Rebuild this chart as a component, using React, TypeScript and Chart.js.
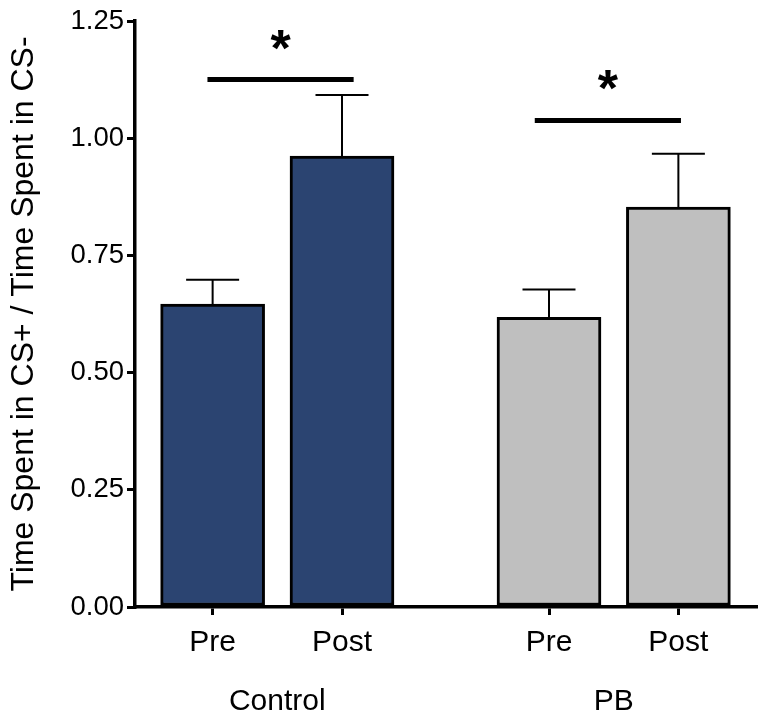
import React, { useEffect, useRef } from "react";
import { Chart, registerables } from "chart.js";

Chart.register(...registerables);

// ---- data ----
const barLabels = ["Pre", "Post", "Pre", "Post"];
const barPositions = [0, 1, 2.6, 3.6];
const barValues = [0.646, 0.962, 0.618, 0.853];
const barErrors = [0.052, 0.13, 0.059, 0.114];
const barColors = ["#2B4471", "#2B4471", "#BFBFBF", "#BFBFBF"];

const groupLabels = ["Control", "PB"];
const groupCenters = [0.5, 3.1];

const sigFrom = [-0.04, 2.49];
const sigTo = [1.09, 3.62];
const sigLevel = [1.125, 1.038];
const sigMark = ["*", "*"];

const yTicks = [0, 0.25, 0.5, 0.75, 1.0, 1.25];
const yTitle = "Time Spent in CS+ / Time Spent in CS-";

const FONT = "'Liberation Sans', Arial, Helvetica, sans-serif";

const overlayPlugin = {
  id: "overlay",
  afterDatasetsDraw(chart: any) {
    const ctx = chart.ctx;
    const xs = chart.scales.x;
    const ys = chart.scales.y;
    const meta = chart.getDatasetMeta(0);
    ctx.save();
    // error bars
    ctx.strokeStyle = "#000";
    ctx.lineWidth = 2;
    meta.data.forEach((el: any, i: number) => {
      const x = el.x;
      const y0 = ys.getPixelForValue(barValues[i]);
      const y1 = ys.getPixelForValue(barValues[i] + barErrors[i]);
      ctx.beginPath();
      ctx.moveTo(x, y0);
      ctx.lineTo(x, y1);
      ctx.moveTo(x - 26.5, y1);
      ctx.lineTo(x + 26.5, y1);
      ctx.stroke();
    });
    // significance bars
    ctx.lineWidth = 5;
    ctx.fillStyle = "#000";
    ctx.font = `bold 52px ${FONT}`;
    ctx.textAlign = "center";
    ctx.textBaseline = "alphabetic";
    for (let i = 0; i < sigLevel.length; i++) {
      const x0 = xs.getPixelForValue(sigFrom[i]);
      const x1 = xs.getPixelForValue(sigTo[i]);
      const y = ys.getPixelForValue(sigLevel[i]);
      ctx.beginPath();
      ctx.moveTo(x0, y);
      ctx.lineTo(x1, y);
      ctx.stroke();
      const m = ctx.measureText(sigMark[i]);
      const asc = m.actualBoundingBoxAscent;
      const desc = m.actualBoundingBoxDescent;
      const cy = y - 40;
      ctx.fillText(sigMark[i], (x0 + x1) / 2, cy + (asc - desc) / 2);
    }
    // group labels
    ctx.font = `30px ${FONT}`;
    ctx.textBaseline = "alphabetic";
    for (let i = 0; i < groupLabels.length; i++) {
      ctx.fillText(groupLabels[i], xs.getPixelForValue(groupCenters[i]), 710);
    }
    // y title
    ctx.save();
    ctx.translate(33, (chart.chartArea.top + chart.chartArea.bottom) / 2);
    ctx.rotate(-Math.PI / 2);
    ctx.font = `32px ${FONT}`;
    ctx.textAlign = "center";
    ctx.fillText(yTitle, 0, 0);
    ctx.restore();
    ctx.restore();
  },
};

export default function App() {
  const ref = useRef<HTMLCanvasElement>(null);
  useEffect(() => {
    document.body.style.margin = "0";
    const chart = new Chart(ref.current as HTMLCanvasElement, {
      type: "bar",
      data: {
        datasets: [
          {
            data: barPositions.map((x, i) => ({ x, y: barValues[i] })),
            backgroundColor: barColors,
            borderColor: "#000",
            borderWidth: 3,
            borderSkipped: false,
            barThickness: 104,
          },
        ],
      },
      options: {
        responsive: false,
        animation: false,
        layout: { padding: { top: 21, right: 10, left: 0, bottom: 0 } },
        plugins: { legend: { display: false }, tooltip: { enabled: false } },
        scales: {
          x: {
            type: "linear",
            min: -0.6,
            max: 4.2,
            offset: false,
            afterBuildTicks: (scale: any) => {
              scale.ticks = barPositions.map((v) => ({ value: v }));
            },
            afterFit: (scale: any) => {
              scale.height = 113;
            },
            ticks: {
              callback: (_v: any, i: number) => barLabels[i],
              font: { size: 30, family: FONT },
              color: "#000",
              padding: 10,
              maxRotation: 0,
              autoSkip: false,
            },
            grid: {
              display: true,
              offset: false,
              drawOnChartArea: false,
              drawTicks: true,
              tickLength: 8,
              color: "#000",
              lineWidth: 3,
            },
            border: { display: true, color: "#000", width: 3.5 },
          },
          y: {
            type: "linear",
            min: 0,
            max: 1.25,
            afterBuildTicks: (scale: any) => {
              scale.ticks = yTicks.map((v) => ({ value: v }));
            },
            afterFit: (scale: any) => {
              scale.width = 135;
            },
            ticks: {
              callback: (v: any) => Number(v).toFixed(2),
              font: { size: 27.5, family: FONT },
              color: "#000",
              padding: 3,
            },
            grid: {
              display: true,
              drawOnChartArea: false,
              drawTicks: true,
              tickLength: 8,
              color: "#000",
              lineWidth: 3,
            },
            border: { display: true, color: "#000", width: 3.5 },
          },
        },
      },
      plugins: [overlayPlugin],
    } as any);
    return () => chart.destroy();
  }, []);
  return (
    <div style={{ width: 766, height: 720 }}>
      <canvas ref={ref} width={766} height={720} />
    </div>
  );
}
